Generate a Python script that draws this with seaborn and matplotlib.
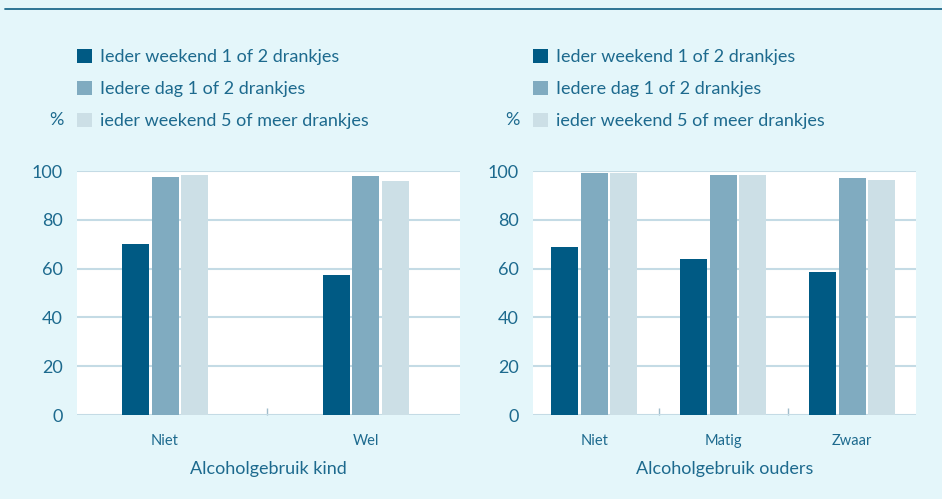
import matplotlib
matplotlib.use("Agg")
import matplotlib.pyplot as plt
import seaborn as sns
import pandas as pd
from matplotlib.lines import Line2D
from matplotlib.ticker import FixedLocator

# ---- data ----
series = ["Ieder weekend 1 of 2 drankjes",
          "Iedere dag 1 of 2 drankjes",
          "ieder weekend 5 of meer drankjes"]
kind_cats = ["Niet", "Wel"]
kind_s1 = [70.1, 57.4]
kind_s2 = [97.7, 98.1]
kind_s3 = [98.5, 95.9]

ouders_cats = ["Niet", "Matig", "Zwaar"]
ouders_s1 = [69.0, 64.1, 58.7]
ouders_s2 = [99.3, 98.5, 97.3]
ouders_s3 = [99.3, 98.5, 96.4]

yticks = [0, 20, 40, 60, 80, 100]
xlabel_kind = "Alcoholgebruik kind"
xlabel_ouders = "Alcoholgebruik ouders"

def long_df(cats, s1, s2, s3):
    rows = []
    for name, vals in zip(series, [s1, s2, s3]):
        for c, v in zip(cats, vals):
            rows.append({"cat": c, "serie": name, "val": v})
    return pd.DataFrame(rows)

df_kind = long_df(kind_cats, kind_s1, kind_s2, kind_s3)
df_ouders = long_df(ouders_cats, ouders_s1, ouders_s2, ouders_s3)

# ---- style ----
BG = "#e4f6fa"
TXT = "#1d6a8e"
GRID = "#c4dbe5"
palette = ["#005a84", "#80abc0", "#ccdfe6"]
FONT = ["Lato", "DejaVu Sans"]

sns.set_theme(style="white")
plt.rcParams["font.family"] = FONT

W, H = 942, 499
fig = plt.figure(figsize=(W / 100, H / 100), dpi=100, facecolor=BG)

def px_axes(x0, x1, ytop, ybot):
    return fig.add_axes([x0 / W, 1 - ybot / H, (x1 - x0) / W, (ybot - ytop) / H])

ax1 = px_axes(77, 460, 171, 415)
ax2 = px_axes(533, 916, 171, 415)

def draw(ax, df, cats, width, xlim, xlabel, seps):
    sns.barplot(data=df, x="cat", y="val", hue="serie", hue_order=series,
                order=cats, palette=palette, width=width, gap=0.08,
                saturation=1, linewidth=0, ax=ax, legend=True)
    ax.set_facecolor("white")
    ax.set_ylim(0, 100)
    ax.set_xlim(*xlim)
    ax.set_yticks(yticks)
    ax.yaxis.grid(True, color=GRID, linewidth=1.5)
    ax.xaxis.grid(False)
    ax.set_axisbelow(True)
    for s in ax.spines.values():
        s.set_visible(False)
    ax.tick_params(axis="y", length=0, pad=10, labelsize=13, labelcolor=TXT)
    ax.tick_params(axis="x", length=0, pad=14, labelsize=10.5, labelcolor=TXT)
    ax.xaxis.set_minor_locator(FixedLocator(seps))
    ax.tick_params(axis="x", which="minor", direction="in", length=5,
                   width=1, color="#9fbccb", bottom=True)
    ax.set_xlabel(xlabel, fontsize=13, color=TXT, labelpad=9)
    ax.set_ylabel("")
    ax.text(-21 / 383, (415 - 120) / 244, "%", transform=ax.transAxes,
            fontsize=13, color=TXT, ha="center", va="center")
    handles, labels = ax.get_legend_handles_labels()
    ax.legend(handles, labels, loc="upper left",
              bbox_to_anchor=(0.0, (415 - 49) / 244), frameon=False,
              fontsize=13, labelcolor=TXT, handlelength=0.85, handleheight=0.85,
              handletextpad=0.45, labelspacing=0.85, borderaxespad=0, borderpad=0)

draw(ax1, df_kind, kind_cats, 0.438, (-0.438, 1.468), xlabel_kind, [0.506])
draw(ax2, df_ouders, ouders_cats, 0.682, (-0.475, 2.494), xlabel_ouders, [0.5, 1.5])

fig.add_artist(Line2D([5 / W, 1], [1 - 8.5 / H, 1 - 8.5 / H],
                      color="#1e6a8c", linewidth=1.3))

fig.savefig("out.png", dpi=100, facecolor=BG)
